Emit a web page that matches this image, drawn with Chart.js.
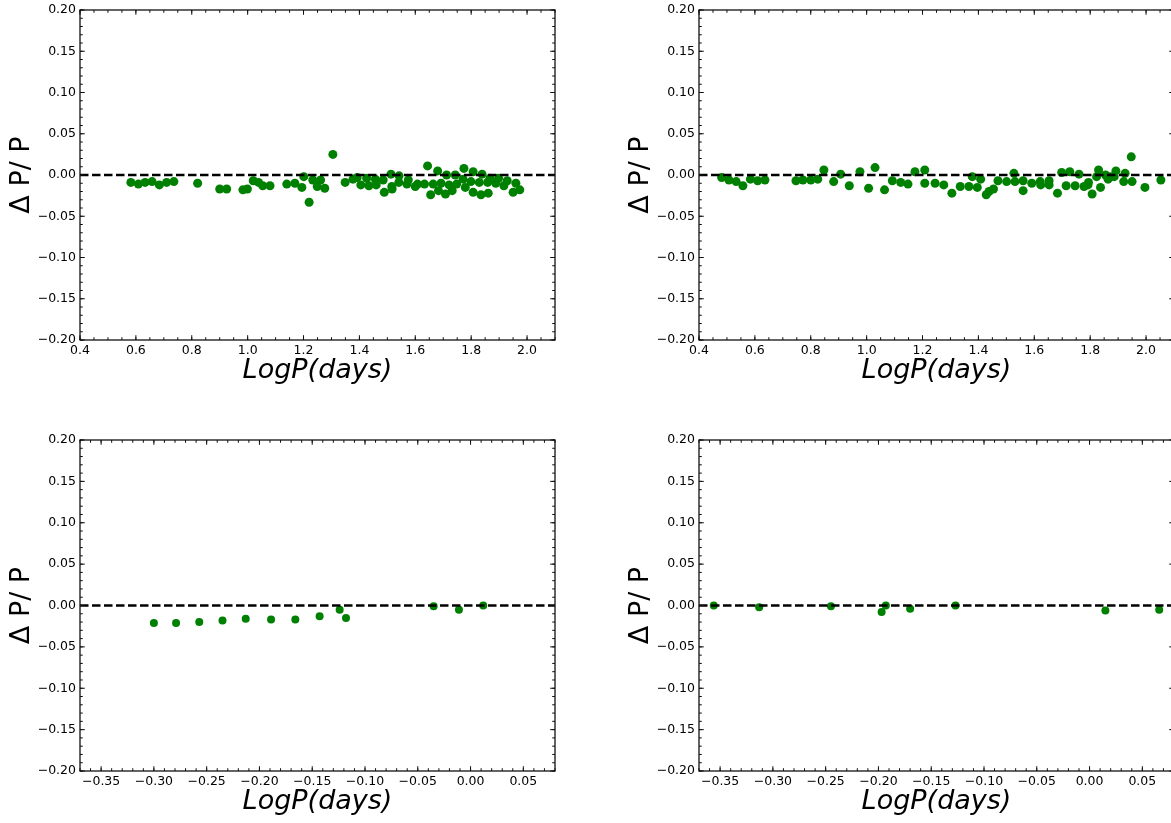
<!DOCTYPE html>
<html>
<head>
<meta charset="utf-8">
<script src="https://cdn.jsdelivr.net/npm/chart.js@4.4.0/dist/chart.umd.min.js"></script>
<style>
  html, body { margin: 0; padding: 0; overflow: hidden; background: #fff; width: 1171px; height: 823px; }
  canvas { position: absolute; }
</style>
</head>
<body>
<canvas id="tl" width="600" height="431" style="left:0;top:-10px"></canvas>
<canvas id="tr" width="600" height="431" style="left:619px;top:-10px"></canvas>
<canvas id="bl" width="600" height="403" style="left:0;top:420px"></canvas>
<canvas id="br" width="600" height="403" style="left:619px;top:420px"></canvas>
<script>
// ---- data ----
const tlLogP = [0.582,0.609,0.633,0.658,0.684,0.710,0.736,0.821,0.900,0.925,0.983,0.999,1.020,1.039,1.054,1.080,1.140,1.169,1.194,1.201,1.220,1.233,1.249,1.261,1.276,1.305,1.349,1.377,1.392,1.405,1.426,1.434,1.457,1.460,1.485,1.489,1.513,1.516,1.517,1.542,1.541,1.570,1.575,1.600,1.608,1.633,1.644,1.655,1.664,1.680,1.683,1.692,1.708,1.712,1.721,1.732,1.743,1.748,1.771,1.774,1.779,1.799,1.807,1.807,1.829,1.835,1.839,1.859,1.861,1.867,1.888,1.898,1.917,1.929,1.950,1.960,1.974];
const tlDelta = [-0.009,-0.011,-0.009,-0.008,-0.012,-0.009,-0.008,-0.010,-0.017,-0.017,-0.018,-0.017,-0.007,-0.009,-0.013,-0.013,-0.011,-0.010,-0.015,-0.002,-0.033,-0.006,-0.014,-0.006,-0.016,0.025,-0.009,-0.005,-0.003,-0.012,-0.004,-0.013,-0.005,-0.012,-0.006,-0.021,0.001,-0.014,-0.017,-0.001,-0.009,-0.011,-0.006,-0.014,-0.011,-0.011,0.011,-0.024,-0.011,0.005,-0.019,-0.010,-0.023,0.000,-0.012,-0.019,0.000,-0.011,-0.005,0.008,-0.015,-0.008,0.004,-0.021,-0.009,-0.024,0.001,-0.009,-0.022,-0.004,-0.010,-0.004,-0.013,-0.007,-0.021,-0.010,-0.018];

const trLogP = [0.481,0.507,0.533,0.557,0.584,0.610,0.636,0.747,0.772,0.800,0.825,0.847,0.882,0.907,0.938,0.976,1.007,1.030,1.064,1.092,1.122,1.148,1.173,1.208,1.208,1.245,1.276,1.305,1.335,1.366,1.378,1.396,1.408,1.428,1.438,1.454,1.470,1.501,1.527,1.531,1.560,1.560,1.591,1.621,1.623,1.653,1.653,1.683,1.698,1.714,1.727,1.746,1.760,1.778,1.792,1.794,1.807,1.823,1.830,1.837,1.855,1.864,1.873,1.886,1.892,1.920,1.925,1.947,1.950,1.996,2.053];
const trDelta = [-0.003,-0.006,-0.008,-0.013,-0.005,-0.007,-0.006,-0.007,-0.006,-0.006,-0.005,0.006,-0.008,0.001,-0.013,0.004,-0.016,0.009,-0.018,-0.007,-0.009,-0.011,0.004,0.006,-0.010,-0.010,-0.012,-0.022,-0.014,-0.014,-0.002,-0.015,-0.005,-0.024,-0.020,-0.017,-0.007,-0.008,0.002,-0.008,-0.019,-0.007,-0.010,-0.008,-0.012,-0.012,-0.007,-0.022,0.003,-0.013,0.004,-0.013,0.001,-0.014,-0.012,-0.009,-0.023,-0.002,0.006,-0.015,0.000,-0.005,-0.002,-0.002,0.005,-0.008,0.002,0.022,-0.008,-0.015,-0.006];

const blLogP = [-0.300,-0.279,-0.257,-0.235,-0.213,-0.189,-0.166,-0.143,-0.124,-0.118,-0.035,-0.011,0.012];
const blDelta = [-0.021,-0.021,-0.020,-0.018,-0.016,-0.017,-0.017,-0.013,-0.005,-0.015,-0.001,-0.005,0.000];

const brLogP = [-0.356,-0.313,-0.245,-0.197,-0.193,-0.170,-0.127,0.015,0.066];
const brDelta = [0.000,-0.002,-0.001,-0.008,0.000,-0.004,0.000,-0.006,-0.005];

// axis limits and tick labels
const longRange = [0.4, 2.1];
const shortRange = [-0.37, 0.08];
const longTicks = [0.4, 0.6, 0.8, 1.0, 1.2, 1.4, 1.6, 1.8, 2.0];
const shortTicks = [-0.35, -0.30, -0.25, -0.20, -0.15, -0.10, -0.05, 0.00, 0.05];
const yRange = [-0.20, 0.20];
const yTicks = [-0.20, -0.15, -0.10, -0.05, 0.00, 0.05, 0.10, 0.15, 0.20];

const GREEN = '#008000';
const FONT = 'DejaVu Sans';

function fmt(v, d) {
  const s = (Math.abs(v) < 1e-9 ? 0 : v).toFixed(d);
  return s.replace('-', '\u2212');
}

// inward major/minor ticks on all four sides + frame (matplotlib look)
const frameTicks = {
  id: 'frameTicks',
  afterDatasetsDraw(chart, args, opts) {
    const { ctx, chartArea: a, scales: { x, y } } = chart;
    ctx.save();
    ctx.strokeStyle = '#111';
    ctx.lineWidth = 1;
    ctx.beginPath();
    const minors = (min, max, step) => {
      const out = [];
      for (let i = Math.ceil(min / step - 1e-6); i * step <= max + 1e-9; i++) out.push(i * step);
      return out;
    };
    const xTick = (v, len) => {
      const p = x.getPixelForValue(v);
      ctx.moveTo(p, a.bottom); ctx.lineTo(p, a.bottom - len);
      ctx.moveTo(p, a.top); ctx.lineTo(p, a.top + len);
    };
    const yTick = (v, len) => {
      const p = y.getPixelForValue(v);
      ctx.moveTo(a.left, p); ctx.lineTo(a.left + len, p);
      ctx.moveTo(a.right, p); ctx.lineTo(a.right - len, p);
    };
    minors(x.min, x.max, opts.xMinor).forEach(v => xTick(v, 2.8));
    opts.xMajor.forEach(v => xTick(v, 4.8));
    minors(y.min, y.max, 0.01).forEach(v => yTick(v, 2.8));
    yTicks.forEach(v => yTick(v, 4.8));
    ctx.stroke();
    ctx.lineWidth = 1.3;
    ctx.strokeRect(a.left, a.top, a.width, a.height);
    ctx.restore();
  }
};

function makePanel(id, xs, ys, xRange, xTicks, xMinor, xDec, pad, radius) {
  const pts = xs.map((v, i) => ({ x: v, y: ys[i] }));
  return new Chart(document.getElementById(id), {
    type: 'scatter',
    data: {
      datasets: [
        {
          type: 'line',
          data: [{ x: xRange[0], y: 0 }, { x: xRange[1], y: 0 }],
          borderColor: '#000',
          borderWidth: 2.5,
          borderDash: [8.5, 3.5],
          pointRadius: 0,
          order: 0
        },
        {
          data: pts,
          backgroundColor: GREEN,
          borderWidth: 0,
          pointRadius: radius,
          order: 1
        }
      ]
    },
    options: {
      responsive: false,
      animation: false,
      devicePixelRatio: 1,
      layout: { padding: pad },
      plugins: { legend: { display: false }, tooltip: { enabled: false }, frameTicks: { xMajor: xTicks, xMinor: xMinor } },
      scales: {
        x: {
          type: 'linear',
          min: xRange[0],
          max: xRange[1],
          grid: { display: false, drawTicks: false, tickLength: 0 },
          border: { display: false },
          afterBuildTicks: s => { s.ticks = xTicks.map(v => ({ value: v })); },
          afterFit: s => { s.height = 47; },
          ticks: {
            autoSkip: false, maxRotation: 0, padding: 3,
            color: '#000', font: { family: FONT, size: 12.5 },
            callback: v => fmt(v, xDec)
          },
          title: {
            display: true, text: 'LogP(days)', color: '#000', padding: 0,
            font: { family: FONT, size: 27, style: 'italic' }
          }
        },
        y: {
          min: yRange[0],
          max: yRange[1],
          grid: { display: false, drawTicks: false, tickLength: 0 },
          border: { display: false },
          afterBuildTicks: s => { s.ticks = yTicks.map(v => ({ value: v })); },
          afterFit: s => { s.width = 74; },
          ticks: {
            autoSkip: false, padding: 4,
            color: '#000', font: { family: FONT, size: 12.5 },
            callback: v => fmt(v, 2)
          },
          title: {
            display: true, text: '\u0394 P/ P', color: '#000', padding: 0,
            font: { family: FONT, size: 27 }
          }
        }
      }
    },
    plugins: [frameTicks]
  });
}

const topPad = { left: 6, top: 20, right: 45, bottom: 34 };
const botPad = { left: 6, top: 20, right: 45, bottom: 5 };

makePanel('tl', tlLogP, tlDelta, longRange, longTicks, 0.05, 1, topPad, 4.5);
makePanel('tr', trLogP, trDelta, longRange, longTicks, 0.05, 1, topPad, 4.5);
makePanel('bl', blLogP, blDelta, shortRange, shortTicks, 0.01, 2, botPad, 4);
makePanel('br', brLogP, brDelta, shortRange, shortTicks, 0.01, 2, botPad, 4);
</script>
</body>
</html>
